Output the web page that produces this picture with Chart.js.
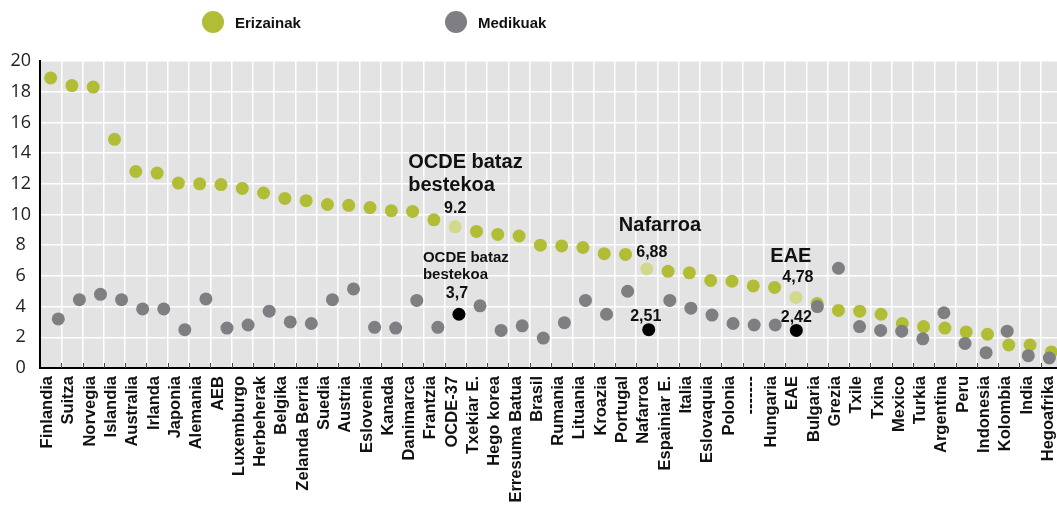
<!DOCTYPE html>
<html>
<head>
<meta charset="utf-8">
<script src="https://cdn.jsdelivr.net/npm/chart.js@4.4.0/dist/chart.umd.min.js"></script>
<style>
  html, body { margin: 0; padding: 0; background: #fff; overflow: hidden; width: 1057px; height: 507px; }
  .wrap { position: relative; width: 1062px; height: 507px; }
  canvas { position: absolute; left: 0; top: 0; }
  .legend { position: absolute; top: 11px; display: flex; align-items: center;
            font: bold 15px 'Liberation Sans', Arial, sans-serif; color: #111; }
  .legend .dot { display: inline-block; width: 22px; height: 22px; border-radius: 50%; margin-right: 11px; }
</style>
</head>
<body>
<div class="wrap">
  <canvas id="chart" width="1062" height="507"></canvas>
  <div class="legend" style="left:202px"><span class="dot" style="background:#b0bd35"></span>Erizainak</div>
  <div class="legend" style="left:445px"><span class="dot" style="background:#7e7e83"></span>Medikuak</div>
</div>
<script>
// countries, sorted by nurses per 1000 inhabitants
const countries = [
  'Finlandia', 'Suitza', 'Norvegia', 'Islandia', 'Australia', 'Irlanda', 'Japonia', 'Alemania',
  'AEB', 'Luxemburgo', 'Herbeherak', 'Belgika', 'Zelanda Berria', 'Suedia', 'Austria', 'Eslovenia',
  'Kanada', 'Danimarca', 'Frantzia', 'OCDE-37', 'Txekiar E.', 'Hego korea', 'Erresuma Batua', 'Brasil',
  'Rumania', 'Lituania', 'Kroazia', 'Portugal', 'Nafarroa', 'Espainiar E.', 'Italia', 'Eslovaquia',
  'Polonia', '-------', 'Hungaria', 'EAE', 'Bulgaria', 'Grezia', 'Txile', 'Txina',
  'Mexico', 'Turkia', 'Argentina', 'Peru', 'Indonesia', 'Kolombia', 'India', 'Hegoafrika'
];

// nurses (green)
const erizainak = [
  18.9, 18.4, 18.3, 14.9, 12.8, 12.7, 12.05, 12.0,
  11.95, 11.7, 11.4, 11.05, 10.9, 10.65, 10.6, 10.45,
  10.25, 10.2, 9.65, 9.2, 8.9, 8.7, 8.6, 8.0,
  7.95, 7.85, 7.45, 7.4, 6.45, 6.3, 6.2, 5.7,
  5.65, 5.35, 5.25, 4.6, 4.2, 3.75, 3.7, 3.5,
  2.9, 2.7, 2.6, 2.35, 2.2, 1.5, 1.5, 1.05
];

// doctors (grey)
const medikuak = [
  3.2, 4.45, 4.8, 4.45, 3.85, 3.85, 2.5, 4.5,
  2.6, 2.8, 3.7, 3.0, 2.9, 4.45, 5.15, 2.65,
  2.6, 4.4, 2.65, 3.5, 4.05, 2.45, 2.75, 1.95,
  2.95, 4.4, 3.5, 5.0, 2.5, 4.4, 3.9, 3.45,
  2.9, 2.8, 2.8, 2.45, 4.0, 6.5, 2.7, 2.45,
  2.4, 1.9, 3.6, 1.6, 1.0, 2.4, 0.8, 0.65
];

// rows that get highlighted dots
const highlighted = ['OCDE-37', 'Nafarroa', 'EAE'];

const green = '#b0bd35';
const greenLight = '#d2d98c';
const grey = '#7e7e83';

const bigFont = "bold 20px 'Liberation Sans', Arial, sans-serif";
const numFont = "bold 16px 'Liberation Sans', Arial, sans-serif";
const smallFont = "bold 15px 'Liberation Sans', Arial, sans-serif";

// text notes, placed relative to the dot they describe
const notes = [
  { country: 'OCDE-37', series: 'erizainak', text: ['OCDE bataz', 'bestekoa'], font: bigFont, align: 'left', dx: -47, dy: -59, lh: 23 },
  { country: 'OCDE-37', series: 'erizainak', text: ['9.2'], font: numFont, align: 'center', dx: 0, dy: -14, lh: 0 },
  { country: 'OCDE-37', series: 'medikuak', text: ['OCDE bataz', 'bestekoa'], font: smallFont, align: 'left', dx: -36, dy: -52, lh: 17 },
  { country: 'OCDE-37', series: 'medikuak', text: ['3,7'], font: numFont, align: 'center', dx: -2, dy: -16, lh: 0 },
  { country: 'Nafarroa', series: 'erizainak', text: ['Nafarroa'], font: bigFont, align: 'left', dx: -28, dy: -38, lh: 0 },
  { country: 'Nafarroa', series: 'erizainak', text: ['6,88'], font: numFont, align: 'center', dx: 5, dy: -12, lh: 0 },
  { country: 'Nafarroa', series: 'medikuak', text: ['2,51'], font: numFont, align: 'center', dx: -3, dy: -9, lh: 0 },
  { country: 'EAE', series: 'erizainak', text: ['EAE'], font: bigFont, align: 'center', dx: -5, dy: -35, lh: 0 },
  { country: 'EAE', series: 'erizainak', text: ['4,78'], font: numFont, align: 'center', dx: 2, dy: -15, lh: 0 },
  { country: 'EAE', series: 'medikuak', text: ['2,42'], font: numFont, align: 'center', dx: 0, dy: -8, lh: 0 }
];

// grey plot background
const plotBackground = {
  id: 'plotBackground',
  beforeDraw(chart) {
    const { ctx, chartArea: a } = chart;
    ctx.save();
    ctx.fillStyle = '#e3e3e3';
    ctx.fillRect(a.left, a.top, a.right - a.left, a.bottom - a.top);
    ctx.restore();
  }
};

// little dark ticks sitting on the x axis line
const innerTicks = {
  id: 'innerTicks',
  afterDraw(chart) {
    const { ctx, chartArea: a } = chart;
    const step = (a.right - a.left) / countries.length;
    ctx.save();
    ctx.strokeStyle = '#444';
    ctx.lineWidth = 1;
    for (let i = 1; i <= countries.length; i++) {
      const x = Math.round(a.left + i * step) + 0.5;
      ctx.beginPath();
      ctx.moveTo(x, a.bottom - 5);
      ctx.lineTo(x, a.bottom);
      ctx.stroke();
    }
    ctx.restore();
  }
};

const notesPlugin = {
  id: 'notes',
  afterDatasetsDraw(chart) {
    const ctx = chart.ctx;
    notes.forEach((n) => {
      const meta = chart.getDatasetMeta(n.series === 'medikuak' ? 0 : 1);
      const pt = meta.data[countries.indexOf(n.country)];
      ctx.save();
      ctx.font = n.font;
      ctx.fillStyle = '#111';
      ctx.textAlign = n.align;
      ctx.textBaseline = 'alphabetic';
      n.text.forEach((line, k) => ctx.fillText(line, pt.x + n.dx, pt.y + n.dy + k * n.lh));
      ctx.restore();
    });
  }
};

new Chart(document.getElementById('chart'), {
  type: 'line',
  data: {
    labels: countries,
    datasets: [
      {
        label: 'Medikuak',
        data: medikuak.map((v, i) => ({ x: i, y: v })),
        xAxisID: 'x2',
        showLine: false,
        pointRadius: 6.5,
        pointBorderWidth: 0,
        pointBackgroundColor: countries.map((c) => (highlighted.includes(c) ? '#000' : grey)),
        order: 0
      },
      {
        label: 'Erizainak',
        data: erizainak,
        xAxisID: 'x',
        showLine: false,
        pointRadius: 6.5,
        pointBorderWidth: 0,
        pointBackgroundColor: countries.map((c) => (highlighted.includes(c) ? greenLight : green)),
        order: 1
      }
    ]
  },
  options: {
    responsive: false,
    animation: false,
    layout: { autoPadding: false, padding: { top: 61, left: 0, right: 0, bottom: 0 } },
    plugins: { legend: { display: false }, tooltip: { enabled: false } },
    scales: {
      x: {
        type: 'category',
        offset: true,
        grid: { offset: true, color: '#fff', lineWidth: 1.5, drawTicks: false },
        border: { color: '#000', width: 2 },
        ticks: {
          autoSkip: false,
          maxRotation: 90,
          minRotation: 90,
          padding: 8,
          labelOffset: -3,
          color: '#111',
          font: { family: 'Liberation Sans', size: 16.5, weight: 'bold' }
        },
        afterFit(scale) {
          scale.height = 139;
          scale.paddingLeft = 0;
          scale.paddingRight = 0;
        }
      },
      x2: {
        type: 'linear',
        display: false,
        min: -0.868,
        max: 47.6,
        afterFit(scale) {
          scale.paddingLeft = 0;
          scale.paddingRight = 0;
        }
      },
      y: {
        min: 0,
        max: 20,
        grid: { color: '#fff', lineWidth: 1.5, drawTicks: false },
        border: { color: '#000', width: 2 },
        ticks: {
          stepSize: 2,
          crossAlign: 'center',
          padding: 9,
          color: '#222',
          font: { family: 'Open Sans', size: 18 }
        },
        afterFit(scale) { scale.width = 40; }
      }
    }
  },
  plugins: [plotBackground, innerTicks, notesPlugin]
});
</script>
</body>
</html>
